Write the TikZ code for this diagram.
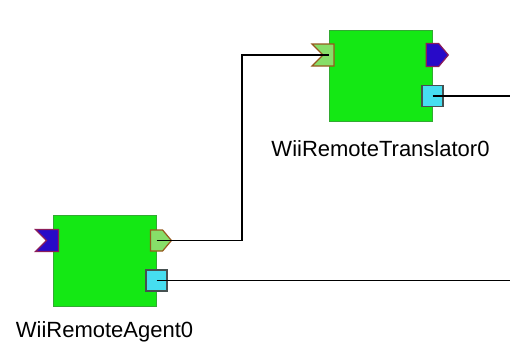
\documentclass[tikz,border=0pt]{standalone}
\usepackage{fontspec}
\setmainfont{Liberation Sans}
\usetikzlibrary{shapes.symbols}
\definecolor{rtcgreen}{RGB}{20,232,20}
\definecolor{rtcedge}{RGB}{50,170,50}
\definecolor{dataport}{RGB}{135,222,105}
\definecolor{dataedge}{RGB}{150,90,30}
\definecolor{blueport}{RGB}{40,10,200}
\definecolor{blueedge}{RGB}{140,30,90}
\definecolor{svcport}{RGB}{70,222,240}
\definecolor{svcedge}{RGB}{70,80,80}
\tikzset{
  rtc/.style={draw=rtcedge,line width=1pt,fill=rtcgreen,minimum width=103pt,minimum height=91pt,inner sep=0pt},
  inport/.style={shape=signal,signal from=west,signal to=nowhere,signal pointer angle=90,
    line width=1.2pt,minimum width=22pt,minimum height=22pt,inner sep=0pt},
  outport/.style={shape=signal,signal to=east,signal from=nowhere,signal pointer angle=100,
    line width=1.2pt,minimum width=21pt,minimum height=21pt,inner sep=0pt},
  svc/.style={draw=svcedge,line width=1.2pt,fill=svcport,minimum width=21pt,minimum height=21pt,inner sep=0pt},
  rtcname/.style={anchor=base,font=\fontsize{22}{24}\selectfont},
  wire/.style={line width=1.3pt}
}
\begin{document}
\begin{tikzpicture}[x=1pt,y=-1pt]
        \useasboundingbox (0,0) rectangle (510,343);
        %componenti
        \node[rtc] (trans) at (380.5,76) {};
        \node[rtc] (agent) at (104.5,260.5) {};
        %nomi componenti
        \node[rtcname] (transname) at (trans.south |- 0,156) {WiiRemoteTranslator0};
        \node[rtcname] (agentname) at (agent.south |- 0,337) {WiiRemoteAgent0};

        %porte del translator
        \node[inport,draw=dataedge,fill=dataport] (tin) at (trans.west |- 0,55) {};
        \node[outport,draw=blueedge,fill=blueport,minimum width=22pt,minimum height=23pt] (tout) at (trans.east |- 0,55) {};
        \node[svc] (tsvc) at (trans.east |- 0,96) {};

        %porte dell'agent
        \node[inport,draw=blueedge,fill=blueport,minimum width=23pt] (ain) at (agent.west |- 0,240.5) {};
        \node[outport,draw=dataedge,fill=dataport] (aout) at (agent.east |- 0,240.5) {};
        \node[svc] (asvc) at (agent.east |- 0,280.5) {};

        %collegamenti
        \coordinate (bend) at (242,148);
        \coordinate (redge) at (510,0);
        \draw[wire] (aout.center) -| (bend) |- (tin.center);
        \draw[wire] (asvc.center) -- (asvc.center -| redge);
        \draw[wire] (tsvc.center) -- (tsvc.center -| redge);
\end{tikzpicture}
\end{document}
